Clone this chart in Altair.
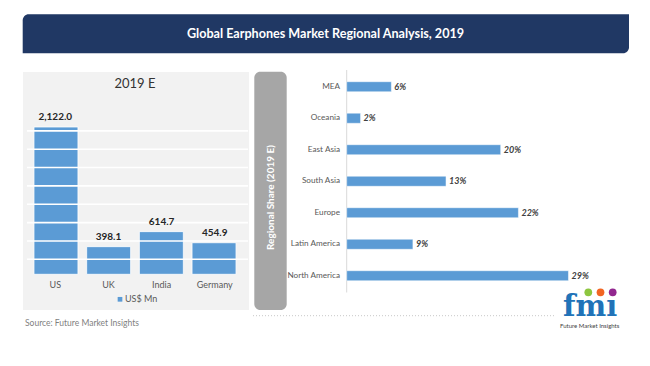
import altair as alt
import pandas as pd

# ---------------- data ----------------
countries = ["US", "UK", "India", "Germany"]
country_values = [2122.0, 398.1, 614.7, 454.9]

regions = ["MEA", "Oceania", "East Asia", "South Asia", "Europe", "Latin America", "North America"]
region_shares = [5.8, 1.8, 20.0, 12.9, 22.3, 8.6, 28.8]

grid_values = [250, 500, 750, 1000, 1250, 1500, 1750, 2000]

title_text = "Global Earphones Market Regional Analysis, 2019"
left_title = "2019 E"
side_label = "Regional Share (2019 E)"
legend_label = "US$ Mn"
source_text = "Source: Future Market Insights"

BLUE = "#5b9bd5"
FONT = "Lato"

left_df = pd.DataFrame({
    "country": countries,
    "value": country_values,
    "label": [f"{v:,.1f}" for v in country_values],
})
right_df = pd.DataFrame({
    "region": regions,
    "share": region_shares,
    "label": [f"{round(v)}%" for v in region_shares],
})
grid_df = pd.DataFrame({"g": grid_values})
one = pd.DataFrame({"k": [0]})

# ---------------- scales ----------------
def xL():
    return alt.X("country:N", sort=countries, axis=None,
                 scale=alt.Scale(range=[20.7, 233.3], paddingInner=0.165, paddingOuter=0.1))

def yL():
    return alt.Y("value:Q", axis=None,
                 scale=alt.Scale(domain=[0, 2500], range=[266.3, 92.75], nice=False, zero=True))

def yR():
    return alt.Y("region:N", sort=regions, axis=None,
                 scale=alt.Scale(range=[63, 283.5], paddingInner=0.68, paddingOuter=0.34))

def xR():
    return alt.X("share:Q", axis=None,
                 scale=alt.Scale(domain=[0, 30], range=[338.7, 569.7], nice=False, zero=True))

layers = []

# title bar
layers.append(alt.Chart(one).mark_rect(color="#203864", cornerRadiusTopLeft=6,
                                         cornerRadiusBottomRight=6).encode(
    x=alt.value(14.7), x2=alt.value(621), y=alt.value(6.3), y2=alt.value(45.3)))
layers.append(alt.Chart(one).mark_text(text=title_text, color="white", fontWeight="bold",
                                         fontSize=12.6, font=FONT, align="center", baseline="middle").encode(
    x=alt.value(317.5), y=alt.value(26)))

# left panel background
layers.append(alt.Chart(one).mark_rect(color="#f2f2f2").encode(
    x=alt.value(15), x2=alt.value(241), y=alt.value(64), y2=alt.value(302)))
layers.append(alt.Chart(one).mark_text(text=left_title, color="#333333", fontSize=13, font=FONT,
                                         align="center", baseline="middle").encode(
    x=alt.value(127), y=alt.value(76.3)))

# left bars
layers.append(alt.Chart(left_df).mark_bar(color=BLUE, stroke="white", strokeWidth=0.8).encode(
    x=xL(), y=yL()))
# grid lines (drawn over bars)
layers.append(alt.Chart(grid_df).mark_rule(color="white", strokeWidth=1.6).encode(
    y=alt.Y("g:Q", axis=None, scale=alt.Scale(domain=[0, 2500], range=[269.65, 86.15], nice=False)),
    x=alt.value(19), x2=alt.value(240)))
# value labels
layers.append(alt.Chart(left_df).mark_text(color="#262626", fontWeight="bold", fontSize=10, font=FONT,
                                             baseline="middle", dy=-9.5).encode(
    x=xL(), y=yL(), text="label:N"))
# category labels
layers.append(alt.Chart(left_df).mark_text(color="#595959", fontSize=9, font=FONT,
                                             baseline="middle").encode(
    x=xL(), y=alt.value(277), text="country:N"))
# legend
layers.append(alt.Chart(one).mark_square(color=BLUE, size=22, opacity=1).encode(
    x=alt.value(112), y=alt.value(291.3)))
layers.append(alt.Chart(one).mark_text(text=legend_label, color="#595959", fontSize=9, font=FONT,
                                         align="left", baseline="middle").encode(
    x=alt.value(117), y=alt.value(291.3)))

# gray side box
layers.append(alt.Chart(one).mark_rect(color="#a6a6a6", cornerRadius=6).encode(
    x=alt.value(246.3), x2=alt.value(278.7), y=alt.value(63.7), y2=alt.value(302)))
layers.append(alt.Chart(one).mark_text(text=side_label, color="white", fontWeight="bold", fontSize=10,
                                         font=FONT, angle=270, align="center", baseline="middle").encode(
    x=alt.value(262.5), y=alt.value(189.5)))

# right chart
layers.append(alt.Chart(one).mark_rule(color="#d9d9d9", strokeWidth=1).encode(
    x=alt.value(338.7), y=alt.value(62), y2=alt.value(284.5)))
layers.append(alt.Chart(right_df).mark_bar(color=BLUE, stroke="white", strokeWidth=0.5).encode(
    y=yR(), x=xR()))
layers.append(alt.Chart(right_df).mark_text(color="#404040", fontWeight="bold", fontStyle="italic",
                                              fontSize=9, font=FONT, align="left", baseline="middle",
                                              dx=3).encode(
    y=yR(), x=xR(), text="label:N"))
layers.append(alt.Chart(right_df).mark_text(color="#595959", fontSize=8.2, font=FONT, align="right",
                                              baseline="middle").encode(
    y=yR(), x=alt.value(332), text="region:N"))

# dotted separator and source
layers.append(alt.Chart(one).mark_rule(color="#c8c8c8", strokeWidth=1, strokeDash=[1, 2]).encode(
    x=alt.value(245), x2=alt.value(548), y=alt.value(307.7)))
layers.append(alt.Chart(one).mark_text(text=source_text, color="#7f7f7f", fontSize=8.5, font=FONT,
                                         align="left", baseline="middle").encode(
    x=alt.value(17), y=alt.value(314.7)))

# logo
layers.append(alt.Chart(one).mark_text(text="fmı", color="#2173b8", fontWeight="bold", fontSize=29,
                                         font="DejaVu Serif", align="left", baseline="alphabetic").encode(
    x=alt.value(555), y=alt.value(307.5)))
logo_dots = pd.DataFrame({"c": ["#8dc63f", "#f26522", "#92278f"], "i": [0, 1, 2]})
layers.append(alt.Chart(logo_dots).mark_circle(size=60, opacity=1).encode(
    x=alt.X("i:Q", axis=None, scale=alt.Scale(domain=[0, 2], range=[580.3, 604.7], nice=False, zero=False)),
    y=alt.value(284.3),
    color=alt.Color("c:N", scale=None)))
layers.append(alt.Chart(one).mark_text(text="Future Market Insights", color="#404040", fontSize=6,
                                         font=FONT, align="left", baseline="middle").encode(
    x=alt.value(552), y=alt.value(317.5)))

chart = alt.layer(*layers).resolve_scale(
    x="independent", y="independent", color="independent"
).properties(
    width=634, height=350, padding=0, background="white",
    autosize=alt.AutoSizeParams(type="none"),
).configure_view(strokeWidth=0)

chart.save("out.html", embed_options={"renderer": "svg", "actions": False})
